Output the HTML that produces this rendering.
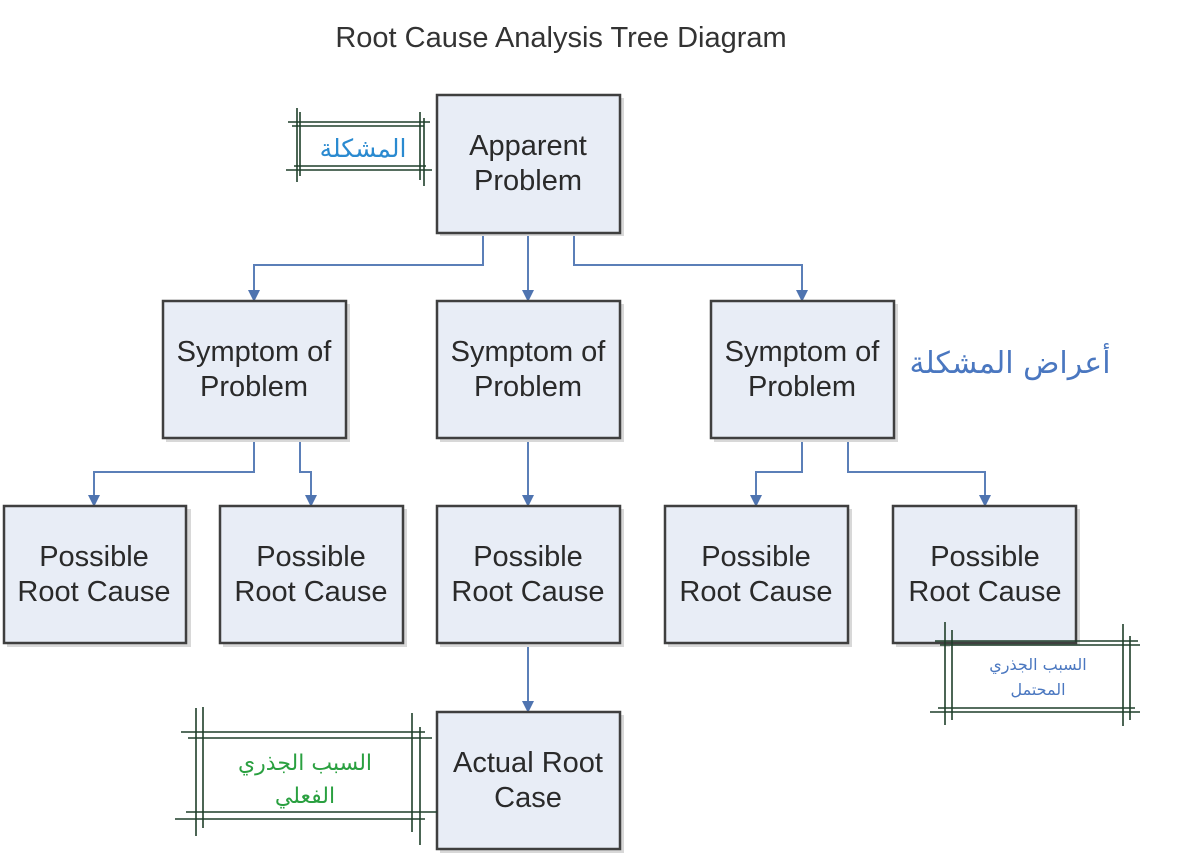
<!DOCTYPE html>
<html><head><meta charset="utf-8">
<style>
html,body{margin:0;padding:0;background:#fff;}
svg{display:block;}
.b{fill:#e8edf6;stroke:#3f3f3f;stroke-width:2.5;}
.sh{fill:#d8d8d8;}
.t{font-family:"Liberation Sans",Arial,Helvetica,sans-serif;font-size:29px;fill:#2a2a2a;text-anchor:middle;}
.c{fill:none;stroke:#5b7fb8;stroke-width:2;}
.a{fill:#4f74b0;}
.g{stroke:#1f3f2a;stroke-width:1.6;}
.ar{font-family:"DejaVu Sans","Noto Sans CJK SC",sans-serif;text-anchor:middle;}
</style></head>
<body>
<svg width="1199" height="856" viewBox="0 0 1199 856" xmlns="http://www.w3.org/2000/svg">
<rect width="1199" height="856" fill="#fff"/>
<text x="561" y="47" style="font-family:'Liberation Sans',Arial,sans-serif;font-size:29px" fill="#333" text-anchor="middle">Root Cause Analysis Tree Diagram</text>

<path class="c" d="M483 233 V265 H254 V293"/>
<path class="c" d="M528 233 V293"/>
<path class="c" d="M574 233 V265 H802 V293"/>
<path class="c" d="M254 438 V472 H94 V498"/>
<path class="c" d="M300 438 V472 H311 V498"/>
<path class="c" d="M528 438 V498"/>
<path class="c" d="M802 438 V472 H756 V498"/>
<path class="c" d="M848 438 V472 H985 V498"/>
<path class="c" d="M528 643 V704"/>
<g class="a">
<polygon points="248,290 260,290 254,302"/>
<polygon points="522,290 534,290 528,302"/>
<polygon points="796,290 808,290 802,302"/>
<polygon points="88,495 100,495 94,507"/>
<polygon points="305,495 317,495 311,507"/>
<polygon points="522,495 534,495 528,507"/>
<polygon points="750,495 762,495 756,507"/>
<polygon points="979,495 991,495 985,507"/>
<polygon points="522,701 534,701 528,713"/>
</g>

<g>
<rect class="sh" x="440" y="98" width="184" height="138"/>
<rect class="b" x="437" y="95" width="183" height="138"/>
<text class="t" x="528" y="155">Apparent</text><text class="t" x="528" y="190">Problem</text>

<rect class="sh" x="166" y="304" width="184" height="138"/>
<rect class="b" x="163" y="301" width="183" height="137"/>
<text class="t" x="254" y="361">Symptom of</text><text class="t" x="254" y="396">Problem</text>
<rect class="sh" x="440" y="304" width="184" height="138"/>
<rect class="b" x="437" y="301" width="183" height="137"/>
<text class="t" x="528" y="361">Symptom of</text><text class="t" x="528" y="396">Problem</text>
<rect class="sh" x="714" y="304" width="184" height="138"/>
<rect class="b" x="711" y="301" width="183" height="137"/>
<text class="t" x="802" y="361">Symptom of</text><text class="t" x="802" y="396">Problem</text>

<rect class="sh" x="7" y="509" width="184" height="138"/>
<rect class="b" x="4" y="506" width="182" height="137"/>
<text class="t" x="94" y="566">Possible</text><text class="t" x="94" y="601">Root Cause</text>
<rect class="sh" x="223" y="509" width="184" height="138"/>
<rect class="b" x="220" y="506" width="183" height="137"/>
<text class="t" x="311" y="566">Possible</text><text class="t" x="311" y="601">Root Cause</text>
<rect class="sh" x="440" y="509" width="184" height="138"/>
<rect class="b" x="437" y="506" width="183" height="137"/>
<text class="t" x="528" y="566">Possible</text><text class="t" x="528" y="601">Root Cause</text>
<rect class="sh" x="668" y="509" width="184" height="138"/>
<rect class="b" x="665" y="506" width="183" height="137"/>
<text class="t" x="756" y="566">Possible</text><text class="t" x="756" y="601">Root Cause</text>
<rect class="sh" x="896" y="509" width="184" height="138"/>
<rect class="b" x="893" y="506" width="183" height="137"/>
<text class="t" x="985" y="566">Possible</text><text class="t" x="985" y="601">Root Cause</text>

<rect class="sh" x="440" y="715" width="184" height="138"/>
<rect class="b" x="437" y="712" width="183" height="137"/>
<text class="t" x="528" y="772">Actual Root</text><text class="t" x="528" y="807">Case</text>
</g>

<g class="g">
<line x1="288" y1="122" x2="430" y2="122"/><line x1="292" y1="126" x2="424" y2="126"/>
<line x1="286" y1="170" x2="432" y2="170"/><line x1="294" y1="166" x2="426" y2="166"/>
<line x1="297" y1="108" x2="297" y2="182"/><line x1="300" y1="112" x2="300" y2="176"/>
<line x1="420" y1="112" x2="420" y2="180"/><line x1="424" y1="118" x2="424" y2="186"/>
</g>
<text class="ar" x="363" y="157" font-size="25" fill="#2a8ad0">المشكلة</text>

<text class="ar" x="1010" y="373" font-size="30" fill="#4a77c0">أعراض المشكلة</text>

<rect x="950" y="646" width="176" height="62" fill="#fff"/>
<g class="g">
<line x1="935" y1="641" x2="1138" y2="641"/><line x1="940" y1="645" x2="1140" y2="645"/>
<line x1="930" y1="712" x2="1140" y2="712"/><line x1="938" y1="708" x2="1135" y2="708"/>
<line x1="945" y1="622" x2="945" y2="725"/><line x1="952" y1="630" x2="952" y2="720"/>
<line x1="1123" y1="624" x2="1123" y2="726"/><line x1="1130" y1="636" x2="1130" y2="720"/>
</g>
<text class="ar" x="1038" y="670" font-size="16" fill="#4a77c0">السبب الجذري</text>
<text class="ar" x="1038" y="695" font-size="16" fill="#4a77c0">المحتمل</text>

<g class="g">
<line x1="181" y1="732" x2="425" y2="732"/><line x1="188" y1="738" x2="432" y2="738"/>
<line x1="186" y1="812" x2="437" y2="812"/><line x1="175" y1="819" x2="425" y2="819"/>
<line x1="196" y1="708" x2="196" y2="836"/><line x1="203" y1="707" x2="203" y2="828"/>
<line x1="412" y1="713" x2="412" y2="832"/><line x1="420" y1="727" x2="420" y2="845"/>
</g>
<text class="ar" x="305" y="770" font-size="22" fill="#2aa040">السبب الجذري</text>
<text class="ar" x="305" y="803" font-size="22" fill="#2aa040">الفعلي</text>
</svg>
</body></html>
